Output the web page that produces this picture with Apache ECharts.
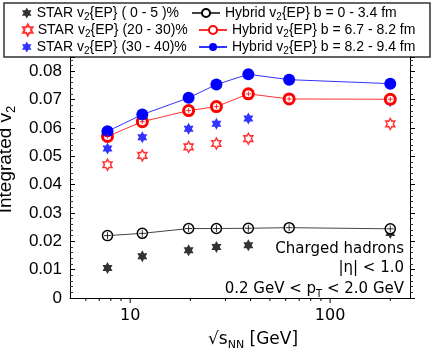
<!DOCTYPE html>
<html>
<head>
<meta charset="utf-8">
<script src="https://cdn.jsdelivr.net/npm/echarts@6/dist/echarts.min.js"></script>
<style>
  html, body { margin: 0; padding: 0; background: #fff; }
  #chart { width: 436px; height: 357px; }
</style>
</head>
<body>
<div id="chart"></div>
<script>
// collision energies (GeV)
var energies = [7.7, 11.5, 19.6, 27, 39, 62.4, 200];
var starEnergies = [7.7, 11.5, 19.6, 27, 39, 200];

// STAR v2{EP}
var star0_5 = [0.0106, 0.0147, 0.0168, 0.0180, 0.0186, 0.0229];
var star20_30 = [0.0470, 0.0503, 0.0533, 0.0545, 0.0562, 0.0614];
var star30_40 = [0.0527, 0.0567, 0.0597, 0.0615, 0.0633, 0.0694];

// Hybrid model v2{EP}
var hybrid0_34 = [0.0220, 0.0228, 0.0245, 0.0245, 0.0246, 0.0248, 0.0244];
var hybrid67_82 = [0.0570, 0.0622, 0.0661, 0.0675, 0.0720, 0.0702, 0.0701];
var hybrid82_94 = [0.0588, 0.0647, 0.0706, 0.0753, 0.0789, 0.0770, 0.0756];

// x axis (log), ticks and labels
var xRange = [5, 251];
var xTickValues = [6, 7, 8, 9, 10, 20, 30, 40, 50, 60, 70, 80, 90, 100, 200];
var xTickLabels = [10, 100];

var names = {
    s05: 'STAR v2{EP} ( 0 - 5 )%',
    s2030: 'STAR v2{EP} (20 - 30)%',
    s3040: 'STAR v2{EP} (30 - 40)%',
    h0: 'Hybrid v2{EP} b = 0 - 3.4 fm',
    h67: 'Hybrid v2{EP} b = 6.7 - 8.2 fm',
    h82: 'Hybrid v2{EP} b = 8.2 - 9.4 fm'
};

function pairs(xs, ys) {
    var out = [];
    for (var i = 0; i < ys.length; i++) out.push([xs[i], ys[i]]);
    return out;
}

// six-pointed star
var hexagram = (function () {
    var pts = [];
    for (var k = 0; k < 12; k++) {
        var r = (k % 2 === 0) ? 10 : 5.77;
        var a = (-90 + k * 30) * Math.PI / 180;
        pts.push((r * Math.cos(a)).toFixed(2) + ',' + (r * Math.sin(a)).toFixed(2));
    }
    return 'path://M' + pts.join('L') + 'Z';
})();
var plusSym = 'path://M-1,0L1,0M0,-1L0,1';

var legendText = {
    fontFamily: 'Liberation Sans',
    fontSize: 14,
    color: '#000',
    lineHeight: 18,
    rich: {
        sub: { fontSize: 10, lineHeight: 10, verticalAlign: 'bottom' }
    }
};
function legendFmt(name) {
    return name.replace('v2', 'v{sub|2}');
}
function makeLegend(name, left, top, isLine) {
    return {
        data: [name],
        left: left,
        top: top,
        orient: 'horizontal',
        itemWidth: isLine ? 28 : 10,
        itemHeight: isLine ? 10 : 11,
        itemGap: 0,
        padding: 0,
        selectedMode: false,
        formatter: legendFmt,
        textStyle: legendText
    };
}

var dom = document.getElementById('chart');
var myChart = echarts.init(dom);

var option = {
    animation: false,
    backgroundColor: '#fff',
    grid: { left: 70, right: 26, top: 57, bottom: 59, containLabel: false, outerBoundsMode: 'none' },
    legend: [
        makeLegend(names.s05, 22, 4, false),
        makeLegend(names.s2030, 22, 21, false),
        makeLegend(names.s3040, 22, 38, false),
        makeLegend(names.h0, 191, 4, true),
        makeLegend(names.h67, 198, 21, true),
        makeLegend(names.h82, 198, 38, true)
    ],
    graphic: [
        {
            type: 'rect',
            z: 0,
            shape: { x: 4, y: 3, width: 426, height: 54 },
            style: { fill: '#fff', stroke: '#333', lineWidth: 1.5 }
        },
        {
            type: 'text',
            right: 32,
            top: 242,
            style: {
                text: 'Charged hadrons',
                font: '15px "DejaVu Sans"',
                fill: '#000',
                textAlign: 'right'
            }
        },
        {
            type: 'text',
            right: 32,
            top: 261,
            style: {
                text: '|η| < 1.0',
                font: '15px "DejaVu Sans"',
                fill: '#000',
                textAlign: 'right'
            }
        },
        {
            type: 'text',
            right: 32,
            top: 280,
            style: {
                text: '0.2 GeV < p{sub|T} < 2.0 GeV',
                font: '15px "DejaVu Sans"',
                fill: '#000',
                textAlign: 'right',
                lineHeight: 19,
                rich: {
                    sub: { fontSize: 10, lineHeight: 10, verticalAlign: 'bottom', fontFamily: 'DejaVu Sans' }
                }
            }
        }
    ],
    xAxis: {
        type: 'log',
        logBase: 10,
        min: xRange[0],
        max: xRange[1],
        name: '√s{sub|NN} [GeV]',
        nameLocation: 'middle',
        nameGap: 28,
        nameTextStyle: {
            fontFamily: 'DejaVu Sans',
            fontSize: 17,
            color: '#000',
            lineHeight: 22,
            padding: [0, 0, 0, 26],
            rich: {
                sub: { fontSize: 11, lineHeight: 11, verticalAlign: 'bottom' }
            }
        },
        axisLine: { lineStyle: { color: '#000', width: 1 } },
        axisTick: { show: false },
        minorTick: { show: false },
        splitLine: { show: false },
        axisLabel: {
            margin: 10,
            fontFamily: 'DejaVu Sans',
            fontSize: 16,
            color: '#000',
            formatter: function (v) {
                var r = Math.round(v);
                return (Math.abs(v - r) < 1e-6 && xTickLabels.indexOf(r) >= 0) ? String(r) : '';
            }
        }
    },
    yAxis: [
        {
            type: 'value',
            position: 'left',
            min: 0,
            max: 0.085,
            interval: 0.01,
            name: 'Integrated v{sub|2}',
            nameLocation: 'middle',
            nameGap: 42,
            nameRotate: 90,
            nameTextStyle: {
                fontFamily: 'Liberation Sans',
                fontSize: 19,
                color: '#000',
                lineHeight: 24,
                padding: [0, 0, 0, 36],
                rich: {
                    sub: { fontSize: 13, lineHeight: 13, verticalAlign: 'bottom' }
                }
            },
            axisLine: { show: true, lineStyle: { color: '#000', width: 1 } },
            axisTick: { show: true, inside: true, length: 5, lineStyle: { color: '#000' } },
            minorTick: { show: true, splitNumber: 5, length: 3, lineStyle: { color: '#333' } },
            splitLine: { show: false },
            axisLabel: {
                margin: 8,
                fontFamily: 'Liberation Sans',
                fontSize: 17,
                color: '#000',
                showMaxLabel: false
            }
        },
        {
            type: 'value',
            position: 'right',
            min: 0,
            max: 0.085,
            interval: 0.01,
            axisLine: { show: true, lineStyle: { color: '#000', width: 1 } },
            axisTick: { show: true, inside: false, length: 5, lineStyle: { color: '#000' } },
            minorTick: { show: true, splitNumber: 5, length: 3, lineStyle: { color: '#333' } },
            splitLine: { show: false },
            axisLabel: { show: false }
        }
    ],
    series: [
        {
            name: names.s05,
            type: 'scatter',
            symbol: hexagram,
            symbolSize: [10, 12],
            itemStyle: { color: '#000' },
            z: 3,
            data: pairs(starEnergies, star0_5)
        },
        {
            name: names.s2030,
            type: 'scatter',
            symbol: hexagram,
            symbolSize: [9, 11],
            itemStyle: { color: '#fff', borderColor: '#f00', borderWidth: 1.5 },
            z: 3,
            data: pairs(starEnergies, star20_30)
        },
        {
            name: names.s3040,
            type: 'scatter',
            symbol: hexagram,
            symbolSize: [10, 12],
            itemStyle: { color: '#00f' },
            z: 3,
            data: pairs(starEnergies, star30_40)
        },
        {
            name: names.h0,
            type: 'line',
            symbol: 'circle',
            symbolSize: 10,
            showSymbol: true,
            lineStyle: { color: '#444', width: 1 },
            itemStyle: { color: '#fff', borderColor: '#000', borderWidth: 1.5 },
            z: 4,
            data: pairs(energies, hybrid0_34)
        },
        {
            name: names.h67,
            type: 'line',
            symbol: 'circle',
            symbolSize: 10,
            showSymbol: true,
            lineStyle: { color: '#f33', width: 1 },
            itemStyle: { color: '#fff', borderColor: '#f00', borderWidth: 3 },
            z: 4,
            data: pairs(energies, hybrid67_82)
        },
        {
            name: names.h82,
            type: 'line',
            symbol: 'circle',
            symbolSize: 12,
            showSymbol: true,
            lineStyle: { color: '#33f', width: 1 },
            itemStyle: { color: '#00f', borderColor: '#00f', borderWidth: 0 },
            z: 4,
            data: pairs(energies, hybrid82_94)
        },
        {
            // error-bar crosses inside open circles
            type: 'scatter',
            symbol: plusSym,
            symbolSize: 7,
            itemStyle: { color: 'none', borderColor: '#000', borderWidth: 1 },
            z: 5,
            silent: true,
            data: pairs(energies, hybrid0_34)
        },
        {
            type: 'scatter',
            symbol: plusSym,
            symbolSize: 5,
            itemStyle: { color: 'none', borderColor: '#f00', borderWidth: 1 },
            z: 5,
            silent: true,
            data: pairs(energies, hybrid67_82)
        },
        {
            // x-axis tick marks at 6,7,8,9,10,20,...
            type: 'custom',
            silent: true,
            clip: false,
            data: xTickValues.map(function (v) { return [v, 0]; }),
            renderItem: function (params, api) {
                var v = api.value(0);
                var p = api.coord([v, 0]);
                var major = xTickLabels.indexOf(v) >= 0;
                return {
                    type: 'line',
                    shape: { x1: p[0], y1: p[1], x2: p[0], y2: p[1] + (major ? 5 : 3) },
                    style: { stroke: '#000', lineWidth: 1 }
                };
            }
        }
    ]
};

if (option && typeof option === 'object') {
    myChart.setOption(option, true);
}
</script>
</body>
</html>
